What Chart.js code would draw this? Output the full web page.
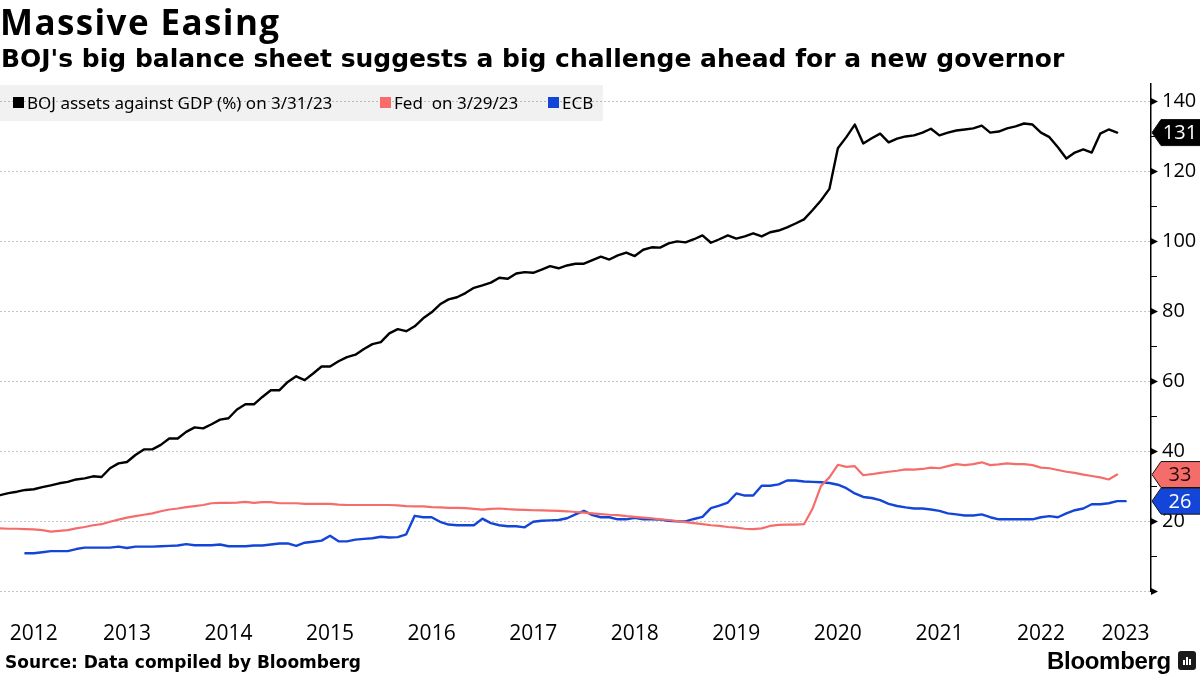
<!DOCTYPE html>
<html>
<head>
<meta charset="utf-8">
<script src="https://cdn.jsdelivr.net/npm/chart.js@4.4.0/dist/chart.umd.min.js"></script>
<style>
html,body{margin:0;padding:0;background:#fff;}
#wrap{position:relative;width:1200px;height:675px;overflow:hidden;background:#fff;}
#chart{position:absolute;left:0;top:0;}
.t{position:absolute;white-space:pre;color:#000;}
#title{left:0px;top:2px;font:bold 35px "Open Sans",sans-serif;line-height:40px;letter-spacing:1.4px;}
#subtitle{left:1px;top:44px;font:bold 25px "DejaVu Sans",sans-serif;line-height:30px;}
#legend{position:absolute;left:0;top:85px;width:603px;height:36px;background:rgba(0,0,0,0.055);}
.li{position:absolute;top:0;height:36px;font:17px "Noto Sans",sans-serif;line-height:36px;color:#000;white-space:pre;}
.sw{position:absolute;width:11px;height:11px;}
#legend .sw{top:12px;}
#source{left:5px;top:650px;font:bold 17px "DejaVu Sans",sans-serif;line-height:24px;}
#brand{left:1047px;top:647px;font:bold 24px "Liberation Sans",Arial,sans-serif;line-height:28px;letter-spacing:-0.3px;}
#icon{position:absolute;left:1178px;top:651px;width:18px;height:19px;background:#1a1a1a;border-radius:3px;}
#icon i{position:absolute;bottom:5px;width:2px;background:#fff;}
</style>
</head>
<body>
<div id="wrap">
<canvas id="chart" width="1200" height="675"></canvas>
<div id="title" class="t">Massive Easing</div>
<div id="subtitle" class="t">BOJ's big balance sheet suggests a big challenge ahead for a new governor</div>
<div id="legend">
  <span class="sw" style="left:13px;background:#000;"></span><span class="li" style="left:27px;">BOJ assets against GDP (%) on 3/31/23</span>
  <span class="sw" style="left:380px;background:#fa6b6b;"></span><span class="li" style="left:394px;">Fed  on 3/29/23</span>
  <span class="sw" style="left:548px;background:#1346d8;"></span><span class="li" style="left:562px;">ECB</span>
</div>
<div id="source" class="t">Source: Data compiled by Bloomberg</div>
<div id="brand" class="t">Bloomberg</div>
<div id="icon"><i style="left:5px;height:5px"></i><i style="left:8px;height:8px"></i><i style="left:11px;height:6px"></i></div>
</div>
<script>
// ---- data (month-end observations, March 2012 onward) ----
const bojValues = [27.4,28,28.4,28.9,29.1,29.7,30.2,30.8,31.2,31.9,32.2,32.8,32.6,35.1,36.5,36.9,38.9,40.5,40.5,41.8,
43.6,43.6,45.5,46.8,46.5,47.7,49,49.4,51.9,53.4,53.4,55.5,57.4,57.4,59.8,61.4,60.3,62.2,64.2,64.2,
65.7,66.9,67.6,69.2,70.6,71.2,73.7,74.9,74.3,75.7,78,79.7,82,83.4,84,85.2,86.7,87.4,88.2,89.6,
89.3,90.8,91.2,91,91.9,92.9,92.3,93.1,93.6,93.6,94.6,95.6,94.8,96,96.8,95.8,97.6,98.3,98.2,99.4,
100,99.7,100.6,101.7,99.6,100.6,101.7,100.8,101.4,102.3,101.4,102.6,103.1,104,105.1,106.3,108.9,111.7,115,126.6,
129.8,133.4,128,129.5,130.8,128.3,129.4,130,130.3,131.1,132.2,130.3,131.1,131.7,132,132.3,133.1,131.1,131.4,132.3,
132.9,133.7,133.4,131.1,129.8,126.9,123.7,125.4,126.3,125.4,130.8,132,131.1];

const fedValues = [17.9,17.8,17.8,17.7,17.6,17.4,17,17.2,17.4,17.9,18.3,18.8,19.1,19.8,20.4,21,21.4,21.8,22.2,22.8,
23.3,23.6,24,24.3,24.6,25.1,25.2,25.2,25.3,25.5,25.2,25.4,25.4,25.1,25.1,25.1,24.9,24.9,24.9,24.9,
24.7,24.6,24.6,24.6,24.6,24.6,24.6,24.5,24.3,24.2,24.2,24,23.9,23.8,23.8,23.7,23.5,23.3,23.5,23.6,
23.4,23.3,23.2,23.1,23.05,23,22.9,22.8,22.6,22.4,22.2,22,21.8,21.7,21.4,21.2,21,20.8,20.5,20.3,
20,19.7,19.4,19.1,18.8,18.6,18.3,18.1,17.8,17.7,17.9,18.6,18.9,19,19,19.1,23.5,30,32.5,36.1,
35.5,35.7,33.1,33.4,33.8,34.1,34.4,34.8,34.7,34.9,35.3,35.1,35.7,36.3,36,36.3,36.8,36,36.2,36.5,
36.3,36.3,36,35.3,35.1,34.6,34.1,33.8,33.3,32.9,32.5,31.9,33.3];

const ecbValues = [null,null,null,10.8,10.8,11.1,11.4,11.4,11.4,12,12.4,12.4,12.4,12.4,12.7,12.3,12.7,12.7,12.7,12.8,
12.9,13,13.4,13.1,13.1,13.1,13.3,12.8,12.8,12.8,13,13,13.3,13.6,13.6,12.9,13.8,14.1,14.4,15.8,
14.2,14.2,14.7,14.9,15.1,15.5,15.3,15.4,16.2,21.5,21.1,21.1,19.8,19,18.8,18.8,18.8,20.7,19.4,18.8,
18.5,18.5,18.2,19.8,20.1,20.2,20.3,20.8,21.9,22.9,21.7,21.1,21.1,20.5,20.5,20.9,20.5,20.5,20.4,20.1,
19.9,19.9,20.6,21.2,23.7,24.4,25.3,27.9,27.3,27.3,30.1,30.1,30.5,31.6,31.6,31.3,31.2,31.1,30.9,30.4,
29.4,27.9,26.9,26.6,26,24.9,24.3,23.9,23.6,23.6,23.3,22.9,22.2,21.9,21.6,21.6,21.9,21.1,20.5,20.5,
20.5,20.5,20.5,21.1,21.4,21.1,22.2,23.1,23.6,24.8,24.8,25.1,25.7,25.7];

const seriesNames = ['BOJ assets against GDP (%) on 3/31/23', 'Fed  on 3/29/23', 'ECB'];

// x categories: month-end positions from Mar 2012 to Jul 2023
const monthLabels = [];
for (let k = 0; k < 137; k++) {
  const y = 2012 + Math.floor((2 + k) / 12);
  const m = (2 + k) % 12 + 1;
  monthLabels.push(y + '-' + String(m).padStart(2, '0'));
}
const yearTickIndex = [4, 15, 27, 39, 51, 63, 75, 87, 99, 111, 123, 133];
const yearTickLabels = ['2012','2013','2014','2015','2016','2017','2018','2019','2020','2021','2022','2023'];

const yTicksLabelled = [20, 40, 60, 80, 100, 120, 140];

const axisMarks = {
  id: 'axisMarks',
  afterDraw(chart) {
    const ctx = chart.ctx, ys = chart.scales.y, xr = chart.chartArea.right;
    ctx.save();
    ctx.fillStyle = '#000'; ctx.strokeStyle = '#000'; ctx.lineWidth = 1;
    for (let v = 0; v <= 140; v += 10) {
      const py = Math.round(ys.getPixelForValue(v)) + 0.5;
      if (v % 20 === 0) {
        ctx.beginPath();
        ctx.moveTo(xr, py - 3.5); ctx.lineTo(xr + 7, py); ctx.lineTo(xr, py + 3.5); ctx.closePath(); ctx.fill();
      } else {
        ctx.beginPath(); ctx.moveTo(xr, py); ctx.lineTo(xr + 6, py); ctx.stroke();
      }
    }
    ctx.restore();
    // value tags
    chart.data.datasets.forEach(ds => {
      let v = null;
      for (let k = ds.data.length - 1; k >= 0; k--) { if (ds.data[k] != null) { v = ds.data[k]; break; } }
      const py = ys.getPixelForValue(v);
      ctx.save();
      ctx.beginPath();
      ctx.moveTo(xr + 1, py);
      ctx.lineTo(xr + 10, py - 13);
      ctx.lineTo(1201, py - 13);
      ctx.lineTo(1201, py + 13);
      ctx.lineTo(xr + 10, py + 13);
      ctx.closePath();
      ctx.fillStyle = ds.tagFill; ctx.fill();
      ctx.lineWidth = 1; ctx.strokeStyle = '#111'; ctx.stroke();
      ctx.fillStyle = ds.tagText;
      ctx.font = '20px "Open Sans", sans-serif';
      ctx.textAlign = 'center'; ctx.textBaseline = 'middle';
      ctx.fillText(String(Math.round(v)), 1180, py + 1);
      ctx.restore();
    });
  }
};

new Chart(document.getElementById('chart'), {
  type: 'line',
  data: {
    labels: monthLabels,
    datasets: [
      { label: seriesNames[0], data: bojValues, borderColor: '#000', borderWidth: 2.4, tagFill: '#000', tagText: '#fff' },
      { label: seriesNames[1], data: fedValues, borderColor: '#f56d6b', borderWidth: 2.2, tagFill: '#f56d6b', tagText: '#2a0808' },
      { label: seriesNames[2], data: ecbValues, borderColor: '#1346d8', borderWidth: 2.4, tagFill: '#1346d8', tagText: '#fff' }
    ]
  },
  options: {
    responsive: false,
    animation: false,
    devicePixelRatio: 1,
    layout: { padding: { top: 84, left: 0, right: 0, bottom: 0 } },
    elements: { point: { radius: 0 }, line: { tension: 0, borderJoinStyle: 'round', borderCapStyle: 'round' } },
    plugins: { legend: { display: false }, tooltip: { enabled: false }, title: { display: false } },
    scales: {
      x: {
        type: 'category',
        grid: { display: false, drawTicks: false },
        border: { display: false },
        ticks: {
          autoSkip: false, maxRotation: 0, minRotation: 0, padding: 0,
          color: '#000', font: { family: '"Open Sans", sans-serif', size: 21, lineHeight: '86px' },
          callback: (val, idx) => { const p = yearTickIndex.indexOf(idx); return p >= 0 ? yearTickLabels[p] : ''; }
        },
        afterFit: s => { s.height = 84; }
      },
      y: {
        position: 'right',
        min: 0, max: 145,
        grid: {
          drawTicks: false,
          color: c => (c.tick && c.tick.value % 20 === 0) ? '#c4c4c4' : 'rgba(0,0,0,0)',
          lineWidth: 1
        },
        border: { display: true, color: '#000', width: 1.5, dash: [2, 2] },
        ticks: {
          stepSize: 10, includeBounds: false, autoSkip: false, padding: 11,
          color: '#000', font: { family: '"Open Sans", sans-serif', size: 20 },
          callback: v => yTicksLabelled.includes(v) ? String(v) : ''
        },
        afterFit: s => { s.width = 49; }
      }
    }
  },
  plugins: [axisMarks]
});
</script>
</body>
</html>
